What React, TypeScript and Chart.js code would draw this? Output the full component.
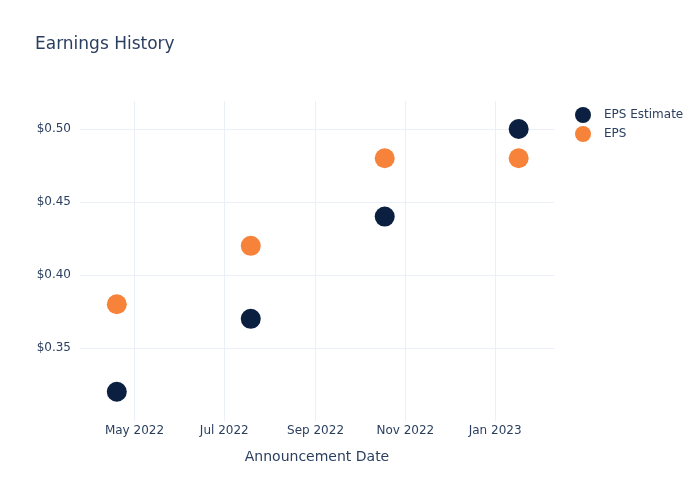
import React, { useEffect, useRef } from "react";
import { Chart, registerables } from "chart.js";

Chart.register(...registerables);

const announcementDates = ["2022-04-19", "2022-07-19", "2022-10-18", "2023-01-17"];
const epsEstimate = [0.32, 0.37, 0.44, 0.5];
const epsActual = [0.38, 0.42, 0.48, 0.48];
const xTickDates = ["2022-05-01", "2022-07-01", "2022-09-01", "2022-11-01", "2023-01-01"];
const xTickLabels = ["May 2022", "Jul 2022", "Sep 2022", "Nov 2022", "Jan 2023"];
const yTickValues = [0.35, 0.4, 0.45, 0.5];
const seriesNames = ["EPS Estimate", "EPS"];
const seriesColors = ["#0b1f40", "#f7823a"];

const ts = (d: string) => Date.parse(d + "T00:00:00Z");
const TEXT = "#2a3f5f";
const GRID = "#ebf0f8";
const FONT = "'DejaVu Sans', sans-serif";

export default function App() {
  const ref = useRef<HTMLCanvasElement | null>(null);

  useEffect(() => {
    document.body.style.margin = "0";
    const canvas = ref.current;
    if (!canvas) return;

    const overlay = {
      id: "overlay",
      afterDraw(chart: any) {
        const ctx = chart.ctx;
        ctx.save();
        ctx.fillStyle = TEXT;
        ctx.textBaseline = "middle";
        ctx.textAlign = "left";
        ctx.font = `17px ${FONT}`;
        ctx.fillText("Earnings History", 35, 45);
        ctx.font = `14px ${FONT}`;
        ctx.textAlign = "center";
        const ca = chart.chartArea;
        ctx.fillText("Announcement Date", (ca.left + ca.right) / 2, 457);
        ctx.textAlign = "left";
        ctx.font = `12px ${FONT}`;
        seriesNames.forEach((n, i) => {
          const y = 115 + i * 19;
          ctx.beginPath();
          ctx.fillStyle = seriesColors[i];
          ctx.arc(583, y, 8, 0, Math.PI * 2);
          ctx.fill();
          ctx.fillStyle = TEXT;
          ctx.fillText(n, 604, y);
        });
        ctx.restore();
      },
    };

    const chart = new Chart(canvas, {
      type: "scatter",
      data: {
        datasets: [
          {
            label: seriesNames[0],
            data: announcementDates.map((d, i) => ({ x: ts(d), y: epsEstimate[i] })),
            backgroundColor: seriesColors[0],
            borderWidth: 0,
            pointRadius: 10,
          },
          {
            label: seriesNames[1],
            data: announcementDates.map((d, i) => ({ x: ts(d), y: epsActual[i] })),
            backgroundColor: seriesColors[1],
            borderWidth: 0,
            pointRadius: 10,
          },
        ],
      },
      options: {
        responsive: false,
        animation: false,
        layout: { padding: { left: 0, top: 101, right: 146, bottom: 0 } },
        plugins: {
          legend: { display: false },
          title: { display: false },
          tooltip: { enabled: false },
        },
        scales: {
          x: {
            type: "linear",
            min: ts("2022-03-25"),
            max: ts("2023-02-10"),
            afterBuildTicks: (s: any) => {
              s.ticks = xTickDates.map((d) => ({ value: ts(d) }));
            },
            afterFit: (s: any) => {
              s.height = 79;
            },
            ticks: {
              color: TEXT,
              font: { family: FONT, size: 12 },
              padding: 3,
              maxRotation: 0,
              autoSkip: false,
              callback: (v: any) => {
                const i = xTickDates.findIndex((d) => ts(d) === v);
                return i >= 0 ? xTickLabels[i] : "";
              },
            },
            grid: { color: GRID, drawTicks: false },
            border: { display: false },
          },
          y: {
            min: 0.3,
            max: 0.5192,
            afterBuildTicks: (s: any) => {
              s.ticks = yTickValues.map((v) => ({ value: v }));
            },
            afterFit: (s: any) => {
              s.width = 80;
            },
            ticks: {
              color: TEXT,
              font: { family: FONT, size: 12 },
              padding: 9,
              callback: (v: any) => "$" + Number(v).toFixed(2),
            },
            grid: { color: GRID, drawTicks: false },
            border: { display: false },
          },
        },
      },
      plugins: [overlay],
    } as any);

    return () => chart.destroy();
  }, []);

  return (
    <div style={{ position: "fixed", left: 0, top: 0, width: 700, height: 500, background: "#fff" }}>
      <canvas ref={ref} width={700} height={500} />
    </div>
  );
}
